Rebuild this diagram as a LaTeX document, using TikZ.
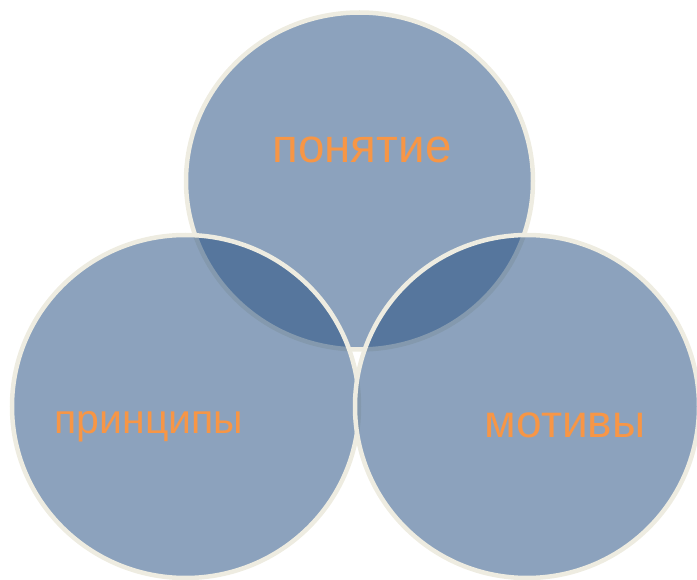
\documentclass[tikz,border=0pt]{standalone}
\usepackage{fontspec}
\setmainfont{Liberation Sans}
\usetikzlibrary{shapes.geometric}
\definecolor{circfill}{RGB}{38,80,130}
\definecolor{circline}{RGB}{238,236,225}
\definecolor{labelorange}{RGB}{247,150,70}
\tikzset{
  venn/.style={ellipse, inner sep=0pt, fill=circfill, fill opacity=0.53,
    draw=circline, draw opacity=1, line width=4.5pt},
  lbl/.style={text=labelorange, inner sep=0pt, anchor=base}
}
\begin{document}
\begin{tikzpicture}[x=1pt,y=-1pt]
\useasboundingbox (0,0) rectangle (697,580);
\node[venn, minimum width=347pt, minimum height=337pt] (top) at (359.5,181) {};
\node[venn, minimum width=347pt, minimum height=343pt] (left) at (185.5,406.5) {};
\node[venn, minimum width=344pt, minimum height=343pt] (right) at (527,406.5) {};
\node[lbl, font=\fontsize{47.5}{48}\selectfont] (t1) at (362,163) {понятие};
\node[lbl, font=\fontsize{41}{41}\selectfont] (t2) at (149,433) {принципы};
\node[lbl, font=\fontsize{46}{46}\selectfont] (t3) at (565,438) {мотивы};
\end{tikzpicture}
\end{document}
